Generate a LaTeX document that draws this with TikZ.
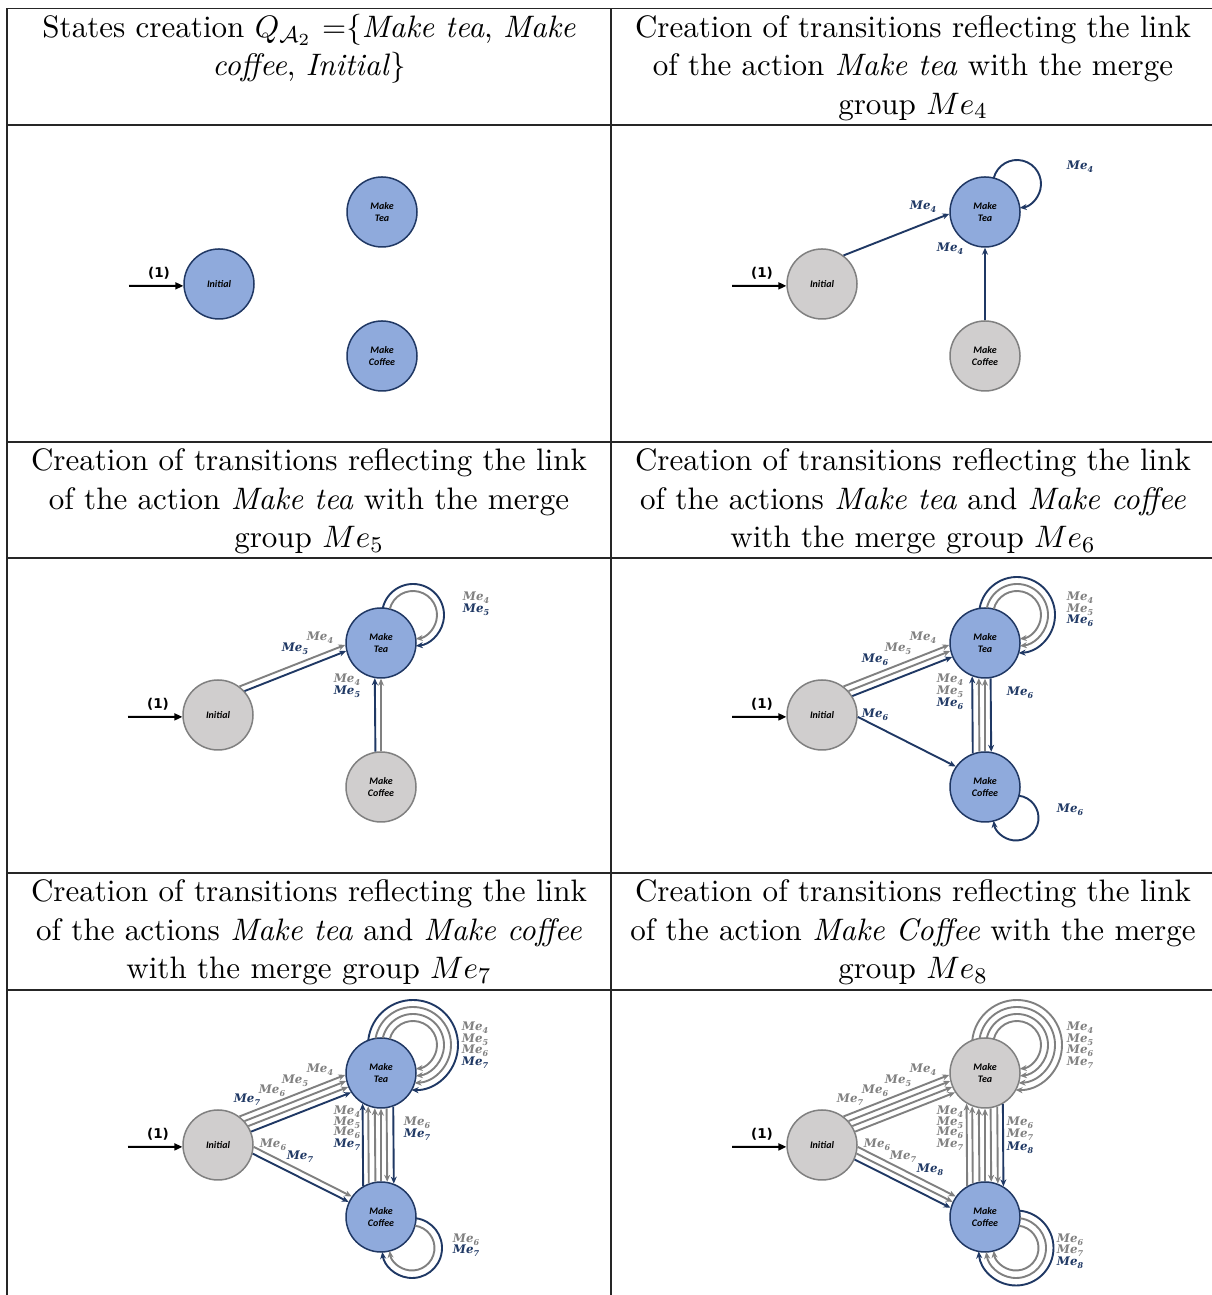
\documentclass[tikz,border=0pt]{standalone}
\usepackage{amsmath}
\usepackage{fontspec}
\newfontfamily\carlito{Carlito}
\newfontfamily\dejavu{DejaVu Sans}
\newfontfamily\dejaserif{DejaVu Serif}
\usetikzlibrary{arrows.meta}
\definecolor{nodeblue}{RGB}{143,170,220}
\definecolor{navy}{RGB}{32,56,100}
\definecolor{nodegrey}{RGB}{208,206,206}
\definecolor{ngborder}{RGB}{128,128,128}
\definecolor{arrblue}{RGB}{31,56,100}
\definecolor{arrgrey}{RGB}{128,128,128}
\newcommand\mee[1]{{\dejaserif\bfseries\itshape Me\raisebox{-0.28em}{\fontsize{8}{8}\selectfont #1}}}
\newcommand\myTloop[5]{\draw[#1] ([shift={(32,28)}]#2.center) ++(#4:#3pt) arc[start angle=#4, end angle=#5, radius=#3pt];}
\newcommand\myCloop[5]{\draw[#1] ([shift={(31,-31)}]#2.center) ++(#4:#3pt) arc[start angle=#4, end angle=#5, radius=#3pt];}
\begin{document}
\begin{tikzpicture}[x=1pt,y=1pt,
  st/.style={circle, minimum size=70pt, inner sep=0pt, line width=1.5pt, align=center,
    font=\carlito\fontsize{10}{12.5}\selectfont\bfseries\itshape},
  stb/.style={st, fill=nodeblue, draw=navy},
  stg/.style={st, fill=nodegrey, draw=ngborder},
  tb/.style={draw=arrblue, line width=1.9pt, -{Stealth[length=7pt,width=6pt]}},
  tg/.style={draw=arrgrey, line width=1.9pt, -{Stealth[length=7pt,width=6pt]}},
  initarr/.style={draw=black, line width=2pt, -{Triangle[length=8pt,width=7pt]}},
  onelab/.style={font=\dejavu\bfseries\fontsize{13.5}{14}\selectfont, inner sep=0pt},
  lb/.style={text=arrblue, inner sep=0pt, font=\fontsize{11.8}{12}\selectfont},
  lg/.style={text=arrgrey, inner sep=0pt, font=\fontsize{11.8}{12}\selectfont},
  hdr/.style={anchor=base, inner sep=0pt, font=\fontsize{10.95}{13.6}\selectfont, scale=2.835, transform shape},
  tbl/.style={draw=black!85, line width=1.2pt}
]
\useasboundingbox (0,0) rectangle (1212,1295);
\fill[white] (0,0) rectangle (1212,1295);

% table rules
\draw[tbl] (7,1286.7) -- (1216,1286.7);
\draw[tbl] (7,1170) -- (1216,1170);
\draw[tbl] (7,853) -- (1216,853);
\draw[tbl] (7,737) -- (1216,737);
\draw[tbl] (7,422) -- (1216,422);
\draw[tbl] (7,305) -- (1216,305);
\draw[tbl] (7,1286.7) -- (7,-2);
\draw[tbl] (611,1286.7) -- (611,-2);

% headers
\node[hdr] (h1a) at (309,1257.7) {States creation $Q_{\mathcal{A}_2}$ =\{\textit{Make tea}, \textit{Make}};
\node[hdr] (h1b) at (309,1219.2) {\textit{coffee}, \textit{Initial}\}};
\node[hdr] (h2a) at (913,1257.7) {Creation of transitions reflecting the link};
\node[hdr] (h2b) at (913,1219.2) {of the action \textit{Make tea} with the merge};
\node[hdr] (h2c) at (913,1180.7) {group $Me_4$};
\node[hdr] (h3a) at (309,824) {Creation of transitions reflecting the link};
\node[hdr] (h3b) at (309,785.5) {of the action \textit{Make tea} with the merge};
\node[hdr] (h3c) at (309,747) {group $Me_5$};
\node[hdr] (h4a) at (913,824) {Creation of transitions reflecting the link};
\node[hdr] (h4b) at (913,785.5) {of the actions \textit{Make tea} and \textit{Make coffee}};
\node[hdr] (h4c) at (913,747) {with the merge group $Me_6$};
\node[hdr] (h5a) at (309,393) {Creation of transitions reflecting the link};
\node[hdr] (h5b) at (309,354.5) {of the actions \textit{Make tea} and \textit{Make coffee}};
\node[hdr] (h5c) at (309,316) {with the merge group $Me_7$};
\node[hdr] (h6a) at (913,393) {Creation of transitions reflecting the link};
\node[hdr] (h6b) at (913,354.5) {of the action \textit{Make Coffee} with the merge};
\node[hdr] (h6c) at (913,316) {group $Me_8$};

% ---------- panel 1
\begin{scope}[shift={(219,1011)}]
\node[stb] (I1) at (0,0) {Initial};
\node[stb] (T1) at (163,72) {Make\\Tea};
\node[stb] (C1) at (163,-72) {Make\\Coffee};
\coordinate (s1) at (-90,-2);
\draw[initarr] (s1) -- (I1.183);
\node[onelab] (o1) at (-60,11) {(1)};
\end{scope}

% ---------- panel 2
\begin{scope}[shift={(822,1011)}]
\node[stg] (I2) at (0,0) {Initial};
\node[stb] (T2) at (163,72) {Make\\Tea};
\node[stg] (C2) at (163,-72) {Make\\Coffee};
\coordinate (s2) at (-90,-2);
\draw[initarr] (s2) -- (I2.183);
\node[onelab] (o2) at (-60,11) {(1)};
\draw[tb] (I2.53.9) -- (T2.183.9);
\draw[tb] (C2.90) -- (T2.270);
\myTloop{tb}{T2}{24}{165.8}{-83.4}
\node[lb] (l2a) at (101,77) {\mee{4}};
\node[lb] (l2b) at (258,117) {\mee{4}};
\node[lb] (l2c) at (128,35) {\mee{4}};
\end{scope}

% ---------- panel 3
\begin{scope}[shift={(218,580)}]
\node[stg] (I3) at (0,0) {Initial};
\node[stb] (T3) at (163,72) {Make\\Tea};
\node[stg] (C3) at (163,-72) {Make\\Coffee};
\coordinate (s3) at (-90,-2);
\draw[initarr] (s3) -- (I3.183);
\node[onelab] (o3) at (-60,11) {(1)};
\draw[tg] (I3.53.9) -- (T3.183.9);
\draw[tb] (I3.42.8) -- (T3.193.9);
\draw[tg] (C3.90) -- (T3.270);
\draw[tb] (C3.99.87) -- (T3.260.13);
\myTloop{tg}{T3}{24}{165.8}{-83.4}
\myTloop{tb}{T3}{31}{167.1}{-84.7}
\node[lg] (l3a) at (102,77) {\mee{4}};
\node[lb] (l3b) at (77,66) {\mee{5}};
\node[lg] (l3c) at (129,35) {\mee{4}};
\node[lb] (l3d) at (129,23) {\mee{5}};
\node[lg] (l3e) at (258,117) {\mee{4}};
\node[lb] (l3f) at (258,105) {\mee{5}};
\end{scope}

% ---------- panel 4
\begin{scope}[shift={(822,580)}]
\node[stg] (I4) at (0,0) {Initial};
\node[stb] (T4) at (163,72) {Make\\Tea};
\node[stb] (C4) at (163,-72) {Make\\Coffee};
\coordinate (s4) at (-90,-2);
\draw[initarr] (s4) -- (I4.183);
\node[onelab] (o4) at (-60,11) {(1)};
\draw[tg] (I4.53.9) -- (T4.183.9);
\draw[tg] (I4.42.8) -- (T4.193.9);
\draw[tb] (I4.32.5) -- (T4.203.8);
\draw[tb] (I4.357.1) -- (C4.145.9);
\draw[tg] (C4.90) -- (T4.270);
\draw[tg] (C4.99.87) -- (T4.260.13);
\draw[tb] (C4.110.05) -- (T4.249.95);
\draw[tb] (T4.279.87) -- (C4.80.13);
\myTloop{tg}{T4}{24}{165.8}{-83.4}
\myTloop{tg}{T4}{31}{167.1}{-84.7}
\myTloop{tb}{T4}{38}{170.0}{-87.6}
\myCloop{tb}{C4}{22.5}{82.6}{-172.6}
\node[lg] (l4a) at (101,77) {\mee{4}};
\node[lg] (l4b) at (76,66) {\mee{5}};
\node[lb] (l4c) at (53,55) {\mee{6}};
\node[lb] (l4d) at (53,0) {\mee{6}};
\node[lg] (l4e) at (128,35) {\mee{4}};
\node[lg] (l4f) at (128,23) {\mee{5}};
\node[lb] (l4g) at (128,11) {\mee{6}};
\node[lb] (l4h) at (198,22) {\mee{6}};
\node[lg] (l4i) at (258,117) {\mee{4}};
\node[lg] (l4j) at (258,105) {\mee{5}};
\node[lb] (l4k) at (258,94) {\mee{6}};
\node[lb] (l4l) at (248,-95) {\mee{6}};
\end{scope}

% ---------- panel 5
\begin{scope}[shift={(218,150)}]
\node[stg] (I5) at (0,0) {Initial};
\node[stb] (T5) at (163,72) {Make\\Tea};
\node[stb] (C5) at (163,-72) {Make\\Coffee};
\coordinate (s5) at (-90,-2);
\draw[initarr] (s5) -- (I5.183);
\node[onelab] (o5) at (-60,11) {(1)};
\draw[tg] (I5.53.9) -- (T5.183.9);
\draw[tg] (I5.42.8) -- (T5.193.9);
\draw[tg] (I5.32.5) -- (T5.203.8);
\draw[tb] (I5.22.6) -- (T5.213.7);
\draw[tg] (I5.357.1) -- (C5.145.9);
\draw[tb] (I5.346.7) -- (C5.155.8);
\draw[tg] (C5.90) -- (T5.270);
\draw[tg] (C5.99.87) -- (T5.260.13);
\draw[tg] (C5.110.05) -- (T5.249.95);
\draw[tb] (C5.120.95) -- (T5.239.05);
\draw[tg] (T5.279.87) -- (C5.80.13);
\draw[tb] (T5.290.05) -- (C5.69.95);
\myTloop{tg}{T5}{24}{165.8}{-83.4}
\myTloop{tg}{T5}{31}{167.1}{-84.7}
\myTloop{tg}{T5}{38}{170.0}{-87.6}
\myTloop{tb}{T5}{45}{174.2}{-91.8}
\myCloop{tg}{C5}{22.5}{82.6}{-172.6}
\myCloop{tb}{C5}{30}{82.4}{-172.4}
\node[lg] (l5a) at (102,75) {\mee{4}};
\node[lg] (l5b) at (77,64) {\mee{5}};
\node[lg] (l5c) at (54,54) {\mee{6}};
\node[lb] (l5d) at (29,45) {\mee{7}};
\node[lg] (l5e) at (55,0) {\mee{6}};
\node[lb] (l5f) at (82,-12) {\mee{7}};
\node[lg] (l5g) at (129,33) {\mee{4}};
\node[lg] (l5h) at (129,22) {\mee{5}};
\node[lg] (l5i) at (129,12) {\mee{6}};
\node[lb] (l5j) at (129,0) {\mee{7}};
\node[lg] (l5k) at (199,22) {\mee{6}};
\node[lb] (l5l) at (199,10) {\mee{7}};
\node[lg] (l5m) at (257,117) {\mee{4}};
\node[lg] (l5n) at (257,105) {\mee{5}};
\node[lg] (l5o) at (257,94) {\mee{6}};
\node[lb] (l5p) at (257,82) {\mee{7}};
\node[lg] (l5q) at (248,-95) {\mee{6}};
\node[lb] (l5r) at (248,-106) {\mee{7}};
\end{scope}

% ---------- panel 6
\begin{scope}[shift={(822,150)}]
\node[stg] (I6) at (0,0) {Initial};
\node[stg] (T6) at (163,72) {Make\\Tea};
\node[stb] (C6) at (163,-72) {Make\\Coffee};
\coordinate (s6) at (-90,-2);
\draw[initarr] (s6) -- (I6.183);
\node[onelab] (o6) at (-60,11) {(1)};
\draw[tg] (I6.53.9) -- (T6.183.9);
\draw[tg] (I6.42.8) -- (T6.193.9);
\draw[tg] (I6.32.5) -- (T6.203.8);
\draw[tg] (I6.22.6) -- (T6.213.7);
\draw[tg] (I6.357.1) -- (C6.145.9);
\draw[tg] (I6.346.7) -- (C6.155.8);
\draw[tb] (I6.336.8) -- (C6.165.7);
\draw[tg] (C6.90) -- (T6.270);
\draw[tg] (C6.99.87) -- (T6.260.13);
\draw[tg] (C6.110.05) -- (T6.249.95);
\draw[tg] (C6.120.95) -- (T6.239.05);
\draw[tg] (T6.279.87) -- (C6.80.13);
\draw[tg] (T6.290.05) -- (C6.69.95);
\draw[tb] (T6.300.95) -- (C6.59.05);
\myTloop{tg}{T6}{24}{165.8}{-83.4}
\myTloop{tg}{T6}{31}{167.1}{-84.7}
\myTloop{tg}{T6}{38}{170.0}{-87.6}
\myTloop{tg}{T6}{45}{174.2}{-91.8}
\myCloop{tg}{C6}{22.5}{82.6}{-172.6}
\myCloop{tg}{C6}{30}{82.4}{-172.4}
\myCloop{tb}{C6}{37.5}{84.8}{-174.8}
\node[lg] (l6a) at (101,75) {\mee{4}};
\node[lg] (l6b) at (76,64) {\mee{5}};
\node[lg] (l6c) at (53,54) {\mee{6}};
\node[lg] (l6d) at (28,45) {\mee{7}};
\node[lg] (l6e) at (55,0) {\mee{6}};
\node[lg] (l6f) at (81,-12) {\mee{7}};
\node[lb] (l6g) at (108,-25) {\mee{8}};
\node[lg] (l6h) at (128,33) {\mee{4}};
\node[lg] (l6i) at (128,22) {\mee{5}};
\node[lg] (l6j) at (128,12) {\mee{6}};
\node[lg] (l6k) at (128,0) {\mee{7}};
\node[lg] (l6l) at (198,22) {\mee{6}};
\node[lg] (l6m) at (198,10) {\mee{7}};
\node[lb] (l6n) at (198,-3) {\mee{8}};
\node[lg] (l6o) at (258,117) {\mee{4}};
\node[lg] (l6p) at (258,105) {\mee{5}};
\node[lg] (l6q) at (258,94) {\mee{6}};
\node[lg] (l6r) at (258,82) {\mee{7}};
\node[lg] (l6s) at (248,-95) {\mee{6}};
\node[lg] (l6t) at (248,-106) {\mee{7}};
\node[lb] (l6u) at (248,-118) {\mee{8}};
\end{scope}
\end{tikzpicture}
\end{document}
